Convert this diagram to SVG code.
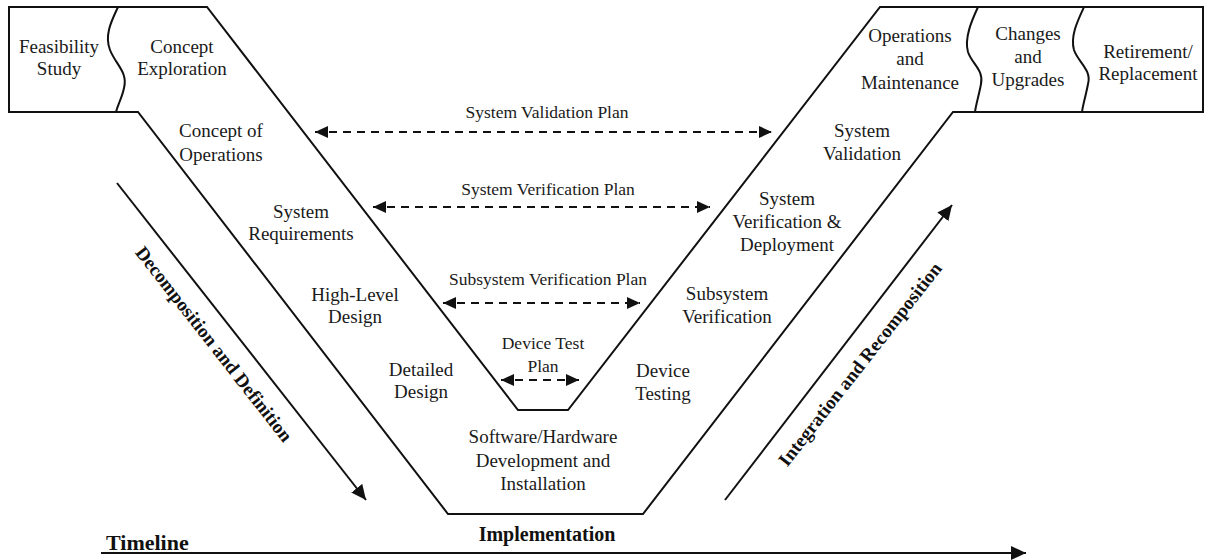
<svg xmlns="http://www.w3.org/2000/svg" width="1208" height="560" viewBox="0 0 1208 560">
  <defs>
    <style>
      .outline { fill: none; stroke: #111; stroke-width: 2; stroke-linejoin: miter; }
      .wave { fill: none; stroke: #111; stroke-width: 2; }
      .lbl { font-family: "Liberation Serif", "Times New Roman", serif; font-size: 19px; fill: #1a1a1a; text-anchor: middle; }
      .plan { font-family: "Liberation Serif", "Times New Roman", serif; font-size: 17.5px; fill: #1a1a1a; text-anchor: middle; }
      .bold { font-family: "Liberation Serif", "Times New Roman", serif; font-weight: bold; fill: #111; }
      .dash { fill: none; stroke: #111; stroke-width: 2; stroke-dasharray: 8 6; }
      .solid { fill: none; stroke: #111; stroke-width: 2; }
    </style>
    <marker id="headEnd" markerUnits="userSpaceOnUse" markerWidth="14" markerHeight="12" refX="13" refY="6" orient="auto">
      <path d="M0,0 L13,6 L0,12 Z" fill="#111"/>
    </marker>
    <marker id="headStart" markerUnits="userSpaceOnUse" markerWidth="14" markerHeight="12" refX="1" refY="6" orient="auto">
      <path d="M14,0 L1,6 L14,12 Z" fill="#111"/>
    </marker>
    <marker id="bigHead" markerUnits="userSpaceOnUse" markerWidth="16" markerHeight="14" refX="15" refY="7" orient="auto">
      <path d="M0,0 L15,7 L0,14 Z" fill="#111"/>
    </marker>
  </defs>

  <!-- V outline with the concept and operations boxes at the ends -->
  <g id="v-outline">
    <path class="outline" d="M9,7 H207 L518,410 H568 L880,7 H1203 V112 H953 L643,514 H448 L138,112 H9 Z"/>
    <path class="wave" d="M118,7 C112,20 104,35 110,50 C116,65 128,72 124,88 C122,98 118,104 116,112"/>
    <path class="wave" d="M978,7 C972,20 964,38 968,52 C972,64 984,70 981,84 C979,95 976,104 975,112"/>
    <path class="wave" d="M1084,7 C1078,20 1070,36 1074,50 C1078,62 1092,70 1088,84 C1086,95 1083,104 1082,112"/>
  </g>

  <!-- Stage labels -->
  <g id="feasibility-study"><text class="lbl" x="59" y="53">Feasibility</text><text class="lbl" x="59" y="75">Study</text></g>
  <g id="concept-exploration"><text class="lbl" x="182" y="53">Concept</text><text class="lbl" x="182" y="75">Exploration</text></g>
  <g id="concept-of-operations"><text class="lbl" x="221" y="137">Concept of</text><text class="lbl" x="221" y="161">Operations</text></g>
  <g id="system-requirements"><text class="lbl" x="301" y="218">System</text><text class="lbl" x="301" y="240">Requirements</text></g>
  <g id="high-level-design"><text class="lbl" x="355" y="301">High-Level</text><text class="lbl" x="355" y="323">Design</text></g>
  <g id="detailed-design"><text class="lbl" x="421" y="376">Detailed</text><text class="lbl" x="421" y="398">Design</text></g>
  <g id="sw-hw-development">
    <text class="lbl" x="543" y="443">Software/Hardware</text>
    <text class="lbl" x="543" y="467">Development and</text>
    <text class="lbl" x="543" y="490">Installation</text>
  </g>
  <g id="device-testing"><text class="lbl" x="663" y="377">Device</text><text class="lbl" x="663" y="400">Testing</text></g>
  <g id="subsystem-verification"><text class="lbl" x="727" y="300">Subsystem</text><text class="lbl" x="727" y="323">Verification</text></g>
  <g id="system-verification-deployment">
    <text class="lbl" x="787" y="205">System</text>
    <text class="lbl" x="787" y="228">Verification &amp;</text>
    <text class="lbl" x="787" y="251">Deployment</text>
  </g>
  <g id="system-validation"><text class="lbl" x="862" y="137">System</text><text class="lbl" x="862" y="160">Validation</text></g>
  <g id="operations-maintenance">
    <text class="lbl" x="910" y="42">Operations</text>
    <text class="lbl" x="910" y="65">and</text>
    <text class="lbl" x="910" y="89">Maintenance</text>
  </g>
  <g id="changes-upgrades">
    <text class="lbl" x="1028" y="40">Changes</text>
    <text class="lbl" x="1028" y="63">and</text>
    <text class="lbl" x="1028" y="86">Upgrades</text>
  </g>
  <g id="retirement-replacement"><text class="lbl" x="1148" y="58">Retirement/</text><text class="lbl" x="1148" y="80">Replacement</text></g>
  <g id="implementation"><text class="bold" x="547" y="541" font-size="20" text-anchor="middle">Implementation</text></g>

  <!-- Plan labels -->
  <g id="plan-labels">
    <text class="plan" x="547" y="118">System Validation Plan</text>
    <text class="plan" x="548" y="195">System Verification Plan</text>
    <text class="plan" x="548" y="285">Subsystem Verification Plan</text>
    <text class="plan" x="543" y="349">Device Test</text>
    <text class="plan" x="543" y="372">Plan</text>
  </g>

  <!-- Connectors -->
  <g id="connectors">
    <line class="dash" x1="315" y1="132" x2="772" y2="132" marker-start="url(#headStart)" marker-end="url(#headEnd)"/>
    <line class="dash" x1="373" y1="207" x2="710" y2="207" marker-start="url(#headStart)" marker-end="url(#headEnd)"/>
    <line class="dash" x1="443" y1="303" x2="640" y2="303" marker-start="url(#headStart)" marker-end="url(#headEnd)"/>
    <line class="dash" x1="501" y1="380" x2="579" y2="380" marker-start="url(#headStart)" marker-end="url(#headEnd)"/>
    <line class="solid" x1="117" y1="183" x2="366" y2="500" marker-end="url(#bigHead)"/>
    <line class="solid" x1="725" y1="500" x2="952" y2="205" marker-end="url(#bigHead)"/>
    <line class="solid" x1="101" y1="553" x2="1026" y2="553" marker-end="url(#bigHead)"/>
  </g>

  <!-- Axis captions -->
  <g id="captions">
    <text class="bold" font-size="19" text-anchor="middle" transform="translate(209,348) rotate(52)">Decomposition and Definition</text>
    <text class="bold" font-size="19" text-anchor="middle" transform="translate(865,368) rotate(-52)">Integration and Recomposition</text>
    <text class="bold" font-size="22" x="106" y="550">Timeline</text>
  </g>
</svg>
